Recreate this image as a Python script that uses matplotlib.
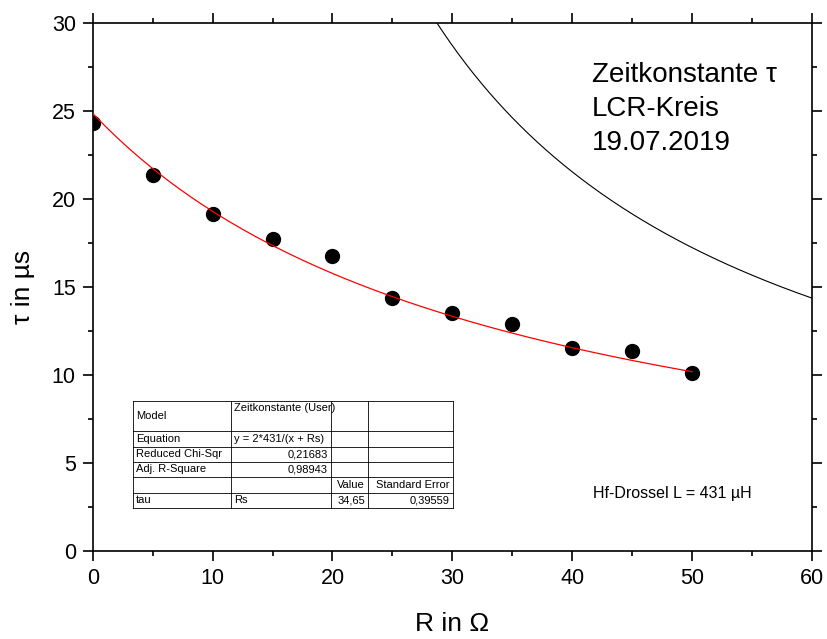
import numpy as np
import matplotlib
matplotlib.use("Agg")
import matplotlib.pyplot as plt
from matplotlib.lines import Line2D

plt.rcParams['font.family'] = ['Liberation Sans', 'DejaVu Sans']

# measured data
R = [0, 5, 10, 15, 20, 25, 30, 35, 40, 45, 50]
tau = [24.35, 21.39, 19.15, 17.71, 16.76, 14.37, 13.54, 12.88, 11.53, 11.38, 10.13]

# fit model y = 2*L/(x + Rs)
L_uH = 431
Rs_fit = 34.65

title_lines = ["Zeitkonstante τ", "LCR-Kreis", "19.07.2019"]

# fit table
tab_rows = [
    ["Model", "Zeitkonstante (User)", "", ""],
    ["Equation", "y = 2*431/(x + Rs)", "", ""],
    ["Reduced Chi-Sqr", "0,21683", "", ""],
    ["Adj. R-Square", "0,98943", "", ""],
    ["", "", "Value", "Standard Error"],
    ["tau", "Rs", "34,65", "0,39559"],
]

W, H = 828, 639
fig = plt.figure(figsize=(W / 100, H / 100), dpi=100)
def fx(x):
    return x / W
def fy(y):
    return 1 - y / H

ax = fig.add_axes([fx(92.7), fy(550.7), fx(812) - fx(92.7), fy(23.3) - fy(550.7)])

xf = np.linspace(0, 50, 300)
xb = np.linspace(2 * L_uH / 30.5, 60, 300)
ax.plot(R, tau, 'o', color='black', ms=10, zorder=2)
ax.plot(xf, 2 * L_uH / (xf + Rs_fit), color='red', lw=0.9, zorder=3)
ax.plot(xb, 2 * L_uH / xb, color='black', lw=0.8, zorder=3)

ax.set_xlim(0, 60)
ax.set_ylim(0, 30)
ax.set_xticks(range(0, 61, 10))
ax.set_xticks(range(5, 60, 10), minor=True)
ax.set_yticks(range(0, 31, 5))
ax.set_yticks(np.arange(2.5, 30, 5), minor=True)
ax.tick_params(which='both', direction='out', top=True, right=True, width=1.2, pad=5, labelsize=15.5)
ax.tick_params(which='major', length=7.2)
ax.tick_params(which='minor', length=3.6)
for s in ax.spines.values():
    s.set_linewidth(1.2)

ax.set_xlabel("R in Ω", fontsize=19, labelpad=17)
ax.set_ylabel("τ in µs", fontsize=19, labelpad=12)

for k, line in enumerate(title_lines):
    fig.text(fx(591.7), fy(81.7 + 34.2 * k), line, fontsize=20, va='baseline', ha='left')
fig.text(fx(593), fy(498), "Hf-Drossel L = 431 µH", fontsize=11.5, va='baseline', ha='left')

# table drawn in pixel coordinates
col_x = [133, 231, 331, 368, 453]
row_y = [401, 431, 446.5, 462, 477, 492.5, 508]
for yy in row_y:
    fig.add_artist(Line2D([fx(col_x[0]), fx(col_x[-1])], [fy(yy), fy(yy)], color='black', lw=0.6))
for xx in col_x:
    fig.add_artist(Line2D([fx(xx), fx(xx)], [fy(row_y[0]), fy(row_y[-1])], color='black', lw=0.6))
right_cells = {(2, 1), (3, 1), (4, 2), (4, 3), (5, 2), (5, 3)}
for i, row in enumerate(tab_rows):
    yc = (row_y[i] + row_y[i + 1]) / 2
    for j, txt in enumerate(row):
        if not txt:
            continue
        if (i, j) in right_cells:
            fig.text(fx(col_x[j + 1] - 3), fy(yc), txt, fontsize=8, ha='right', va='center')
        elif i == 0 and j == 1:
            fig.text(fx(col_x[j] + 3), fy(row_y[0] + 2), txt, fontsize=8, ha='left', va='top')
        else:
            fig.text(fx(col_x[j] + 3), fy(yc), txt, fontsize=8, ha='left', va='center')

fig.savefig("out.png", dpi=100)
